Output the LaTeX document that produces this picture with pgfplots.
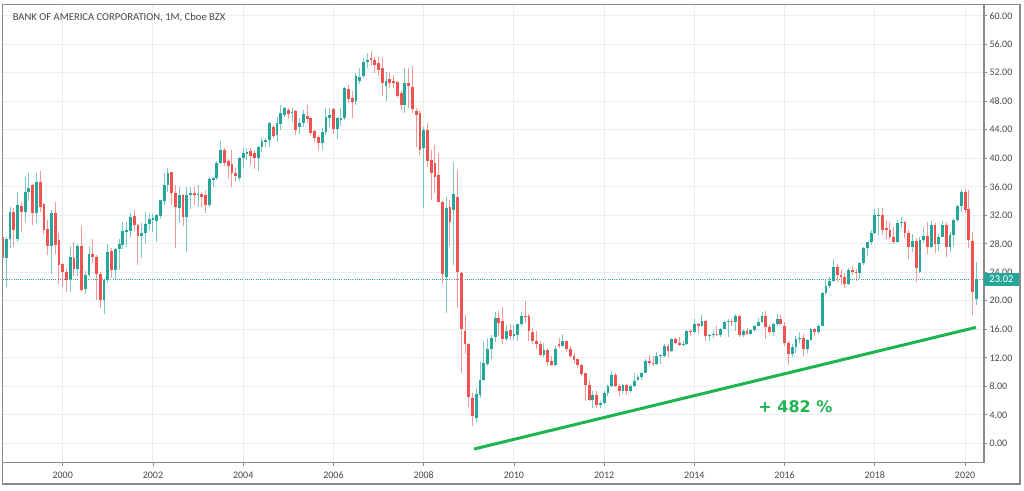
\documentclass[border=0pt]{standalone}
\usepackage{pgfplots}
\pgfplotsset{compat=1.18}
\usepackage{pgfplotstable}
\usepackage{fontspec}
\setmainfont{Carlito}
\newfontfamily\pctfont{DejaVu Sans}

\definecolor{upc}{HTML}{26A69A}
\definecolor{dnc}{HTML}{EF5350}
\definecolor{gridc}{HTML}{E9EEF3}
\definecolor{txt}{HTML}{474747}
\definecolor{framec}{HTML}{8A8A8A}
\definecolor{trend}{RGB}{30,180,80}

% monthly candles, m = months since Jan 2000
\pgfplotstableread{
m O H L C
-16 29.0 30.5 23.8 26.0
-15 26.0 28.9 22.0 28.7
-14 28.6 33.2 27.4 32.5
-13 32.5 33.0 27.5 29.9
-12 28.6 35.3 28.3 33.4
-11 33.3 33.8 29.7 32.5
-10 32.5 37.3 31.1 35.3
-9 35.3 37.9 34.0 35.8
-8 36.2 36.4 30.6 32.3
-7 32.3 37.9 30.9 36.6
-6 36.6 38.2 32.5 33.2
-5 33.6 33.7 29.4 30.0
-4 30.1 31.3 26.4 27.7
-3 27.7 32.8 23.8 32.3
-2 32.3 33.8 26.5 27.8
-1 28.5 29.5 22.4 25.0
0 25.1 25.3 22.0 24.1
1 24.1 24.6 21.3 22.9
2 23.0 27.7 21.3 26.2
3 26.0 28.3 23.5 24.4
4 24.4 28.0 23.5 27.7
5 27.7 30.5 21.3 21.5
6 21.7 24.2 21.0 23.6
7 23.6 27.7 23.3 26.6
8 26.6 28.7 25.3 26.1
9 26.1 26.4 20.1 23.8
10 23.8 24.1 19.0 20.1
11 20.1 23.1 18.1 22.9
12 22.9 27.9 22.5 26.8
13 27.0 27.4 23.2 24.3
14 24.3 27.4 23.0 27.3
15 27.3 28.7 24.3 28.0
16 27.8 31.1 27.2 29.8
17 29.7 31.0 27.5 30.0
18 29.8 32.3 29.0 31.8
19 31.9 32.7 29.8 30.6
20 30.6 30.8 25.0 29.1
21 29.1 30.9 26.0 29.5
22 29.5 32.4 28.0 30.8
23 30.8 32.2 30.0 31.5
24 31.3 32.2 29.7 31.6
25 31.2 32.2 28.3 32.0
26 31.9 34.2 31.5 34.1
27 34.0 37.9 33.5 36.3
28 36.3 38.6 35.3 37.9
29 38.0 38.1 33.4 35.1
30 35.1 36.2 27.4 33.2
31 33.0 36.0 30.9 34.9
32 34.9 35.0 30.5 31.8
33 31.8 36.0 26.9 34.9
34 34.8 36.0 32.9 35.1
35 35.1 35.9 33.4 34.8
36 34.8 36.2 33.2 35.0
37 35.0 35.3 33.2 34.5
38 34.8 35.5 32.3 33.5
39 33.5 37.4 33.2 37.1
40 37.0 37.4 36.0 37.2
41 37.2 39.6 36.9 39.4
42 39.4 42.4 39.2 41.2
43 41.2 41.5 38.9 39.3
44 39.6 39.9 37.2 38.9
45 39.2 41.2 35.9 37.9
46 37.9 38.6 36.7 37.5
47 37.2 40.2 36.8 40.1
48 40.1 41.4 38.7 40.7
49 40.6 41.4 39.7 40.9
50 41.0 41.4 39.0 40.3
51 40.7 41.2 38.5 40.1
52 40.1 41.7 38.2 41.6
53 41.6 42.8 40.9 42.4
54 42.3 42.8 41.6 42.5
55 42.5 45.1 41.6 45.0
56 44.4 44.7 42.9 43.1
57 43.2 45.8 42.3 44.9
58 44.8 47.5 44.0 46.3
59 46.1 47.2 45.8 47.1
60 46.8 47.0 45.5 46.2
61 46.3 47.1 45.1 46.5
62 46.6 46.8 43.2 44.0
63 44.4 45.6 43.4 44.9
64 44.9 46.8 44.4 46.2
65 45.9 47.5 45.0 45.5
66 45.6 45.8 43.2 43.6
67 43.8 43.9 42.3 42.9
68 43.0 43.2 41.2 42.1
69 42.1 44.2 41.2 43.7
70 43.7 47.1 43.2 45.8
71 45.7 47.1 44.4 46.1
72 46.9 47.1 43.4 44.1
73 44.1 45.8 42.7 45.6
74 45.4 47.1 44.5 45.6
75 45.7 50.0 45.4 49.9
76 49.7 50.3 47.8 48.3
77 48.4 49.4 45.7 47.9
78 48.0 51.9 47.5 51.5
79 50.9 52.6 50.4 51.4
80 51.6 54.0 51.2 53.5
81 53.5 54.8 52.6 53.8
82 54.0 55.0 53.0 53.8
83 53.8 54.2 51.9 53.1
84 53.4 54.2 51.6 52.4
85 52.6 54.1 48.8 50.6
86 50.1 52.1 48.1 50.9
87 51.1 52.1 49.9 50.6
88 50.9 51.7 49.8 50.5
89 50.7 50.9 48.4 48.7
90 49.2 49.5 46.7 47.4
91 47.4 52.7 46.4 50.6
92 50.6 52.6 47.0 50.1
93 50.0 52.9 46.3 46.9
94 46.6 47.0 41.6 46.1
95 46.3 46.8 40.4 41.1
96 41.5 44.4 33.0 44.0
97 44.0 44.9 38.8 39.6
98 39.7 41.1 34.1 37.9
99 39.3 41.8 35.1 37.4
100 37.6 40.6 33.8 33.9
101 33.9 34.0 22.4 23.8
102 23.3 34.5 18.3 33.0
103 33.1 34.1 27.7 31.1
104 32.7 39.5 25.0 35.0
105 34.6 38.4 19.0 24.1
106 23.9 24.0 9.9 16.1
107 15.7 18.0 12.5 14.0
108 14.0 14.1 5.1 6.5
109 6.3 7.0 2.5 3.9
110 3.6 7.8 3.0 6.9
111 6.8 11.4 6.4 8.9
112 8.9 14.2 8.7 11.3
113 11.2 14.8 10.8 13.2
114 13.2 15.2 11.8 14.8
115 14.9 18.4 14.2 17.6
116 17.6 18.6 15.0 16.9
117 17.1 19.1 14.0 14.6
118 14.6 16.6 14.4 15.8
119 15.9 16.8 14.5 15.1
120 15.1 16.6 14.5 15.3
121 15.2 16.8 14.3 16.7
122 16.7 18.4 16.4 17.9
123 17.9 19.9 16.9 17.7
124 17.8 18.1 14.4 15.7
125 15.6 16.2 14.0 14.4
126 14.3 15.7 13.2 14.0
127 14.0 14.4 12.2 12.45
128 12.4 14.1 12.1 13.1
129 13.1 13.3 11.0 11.4
130 11.5 12.2 10.8 11.0
131 11.0 13.6 10.9 13.3
132 14.0 14.8 13.4 13.7
133 13.7 15.3 13.5 14.3
134 14.3 14.4 12.8 13.3
135 13.3 13.6 12.0 12.3
136 12.3 12.7 11.1 11.75
137 11.8 11.9 10.5 11.0
138 11.0 11.1 9.4 9.7
139 9.8 9.9 6.0 8.2
140 8.2 8.9 6.0 6.1
141 6.1 7.4 5.0 6.8
142 6.8 7.3 5.0 5.4
143 5.4 6.0 4.9 5.6
144 5.6 7.4 5.5 7.1
145 7.1 8.2 6.7 8.0
146 8.0 10.1 7.9 9.6
147 9.6 9.8 7.9 8.1
148 8.1 8.3 6.7 7.35
149 7.3 8.3 6.9 8.2
150 8.2 8.3 6.8 7.35
151 7.35 8.2 7.1 8.0
152 8.0 9.8 7.9 8.8
153 8.9 9.6 8.8 9.3
154 9.3 10.0 8.9 9.9
155 9.9 11.8 9.8 11.6
156 11.6 12.4 11.0 11.3
157 11.3 12.2 10.9 11.1
158 11.1 12.8 11.0 12.2
159 12.2 12.6 11.2 12.35
160 12.3 14.0 12.1 13.7
161 13.7 13.9 12.1 12.9
162 12.9 14.8 12.8 14.6
163 14.6 14.9 13.9 14.1
164 14.1 14.9 13.6 13.8
165 13.8 14.4 13.6 14.0
166 14.0 15.9 13.8 15.8
167 15.8 16.1 15.0 15.6
168 15.6 17.4 15.4 16.75
169 16.7 16.9 15.4 16.5
170 16.5 18.0 16.3 17.2
171 17.2 17.3 14.4 15.1
172 15.0 15.4 14.4 15.15
173 15.2 15.9 14.8 15.4
174 15.4 16.4 15.1 15.25
175 15.25 16.2 14.9 16.1
176 16.1 17.2 16.0 17.05
177 17.0 17.4 14.9 17.2
178 17.2 17.4 16.4 17.0
179 17.0 18.2 15.8 17.9
180 17.9 18.0 14.9 15.15
181 15.15 16.0 14.9 15.8
182 15.8 16.2 15.2 15.4
183 15.4 16.1 15.2 15.9
184 15.9 16.6 15.6 16.5
185 16.5 17.6 16.4 17.0
186 17.0 18.4 16.9 17.9
187 17.9 18.5 14.6 16.3
188 16.3 16.6 15.3 15.6
189 15.6 16.9 15.0 16.8
190 16.8 18.1 16.4 17.4
191 17.4 18.0 16.6 16.8
192 16.5 17.0 13.7 14.1
193 14.1 14.3 11.0 12.5
194 12.5 13.9 12.1 13.5
195 13.5 15.1 12.7 14.6
196 14.6 15.6 14.1 14.8
197 14.8 15.3 12.2 13.3
198 13.3 14.6 12.7 14.5
199 14.5 16.2 14.4 16.1
200 16.1 16.2 15.0 15.65
201 15.65 16.7 15.4 16.5
202 16.5 21.2 16.4 21.1
203 21.1 23.0 20.8 22.1
204 22.1 23.4 21.8 22.8
205 22.8 25.8 22.7 24.7
206 24.7 25.2 22.6 23.6
207 23.6 24.4 22.2 23.3
208 23.3 23.9 21.8 22.4
209 22.4 24.6 22.2 24.3
210 24.3 24.9 23.6 24.1
211 24.1 24.4 22.8 23.9
212 23.9 25.5 23.0 25.3
213 25.3 27.6 25.0 27.4
214 27.4 28.3 26.3 28.2
215 28.2 29.9 27.8 29.5
216 29.5 32.9 29.3 32.0
217 31.9 33.05 29.2 32.1
218 32.1 33.0 29.2 30.0
219 30.2 31.3 28.7 29.9
220 29.9 31.1 28.7 29.0
221 29.0 30.4 28.0 28.2
222 28.2 31.4 28.1 30.9
223 30.85 31.7 30.2 31.05
224 31.05 31.2 28.8 29.5
225 29.5 30.0 25.8 27.5
226 27.5 29.4 26.8 28.4
227 28.4 28.8 22.7 24.6
228 24.1 29.0 23.9 28.5
229 28.5 30.3 28.1 29.1
230 29.1 31.0 26.6 27.6
231 27.6 31.2 27.4 30.6
232 30.6 30.9 26.7 27.9
233 27.9 29.4 27.0 29.0
234 29.0 31.2 28.9 30.7
235 30.7 31.0 26.2 27.5
236 27.5 29.6 26.9 29.2
237 29.2 31.5 27.7 31.3
238 31.3 33.4 31.0 33.3
239 33.3 35.5 32.5 35.2
240 35.2 35.7 32.3 32.8
241 32.9 35.5 27.4 28.5
242 28.4 29.7 17.95 21.2
243 20.2 25.4 19.4 23.02
}\bars

\begin{document}
\begin{tikzpicture}
\path[use as bounding box] (-2.7pt,-27.5pt) rectangle (1021.3pt,462.5pt);
\begin{axis}[
    at={(0pt,0pt)}, anchor=south west,
    scale only axis, width=981.3pt, height=458pt,
    xmin=-15.96, xmax=245.03, ymin=-2.69, ymax=61.57,
    axis line style={draw=framec, line width=1.2pt},
    tick align=outside, major tick length=3pt,
    tick style={draw=framec, line width=0.8pt},
    xtick pos=lower, ytick pos=right, yticklabel pos=right,
    xtick={0,24,...,240},
    xticklabels={2000,2002,2004,2006,2008,2010,2012,2014,2016,2018,2020},
    ytick={0,4,...,60},
    grid=major, grid style={draw=gridc, line width=1pt},
    tick label style={font=\fontsize{10}{12}\selectfont, text=txt},
    xticklabel style={yshift=-2.5pt},
    yticklabel style={anchor=west, xshift=-1pt,
        /pgf/number format/fixed, /pgf/number format/fixed zerofill,
        /pgf/number format/precision=2},
    /pgf/number format/assume math mode=true,
]
% last price line
\addplot[upc, line width=0.8pt, dash pattern=on 1pt off 1.2pt, forget plot]
    coordinates {(-16,23.02) (245.03,23.02)};

% wicks
\addplot[draw=none, mark=none, forget plot,
    restrict expr to domain={\thisrow{C}-\thisrow{O}}{0:1000},
    error bars/.cd, y dir=plus, y explicit, error mark=none,
    error bar style={draw=upc, line width=1pt, opacity=0.6, solid}]
    table[x=m, y=L, y error plus expr={\thisrow{H}-\thisrow{L}}] {\bars};
\addplot[draw=none, mark=none, forget plot,
    restrict expr to domain={\thisrow{O}-\thisrow{C}}{0.0001:1000},
    error bars/.cd, y dir=plus, y explicit, error mark=none,
    error bar style={draw=dnc, line width=1pt, opacity=0.6, solid}]
    table[x=m, y=L, y error plus expr={\thisrow{H}-\thisrow{L}}] {\bars};

% bodies
\addplot[draw=none, mark=none, forget plot,
    restrict expr to domain={\thisrow{C}-\thisrow{O}}{0:1000},
    error bars/.cd, y dir=plus, y explicit, error mark=none,
    error bar style={draw=upc, line width=2.8pt, solid}]
    table[x=m, y=O, y error plus expr={\thisrow{C}-\thisrow{O}}] {\bars};
\addplot[draw=none, mark=none, forget plot,
    restrict expr to domain={\thisrow{O}-\thisrow{C}}{0.0001:1000},
    error bars/.cd, y dir=plus, y explicit, error mark=none,
    error bar style={draw=dnc, line width=2.8pt, solid}]
    table[x=m, y=C, y error plus expr={\thisrow{O}-\thisrow{C}}] {\bars};

% trend line
\addplot[trend, line width=3pt, forget plot]
    coordinates {(109.4,-0.8) (242.9,16.27)};

\node[anchor=west, text=txt, font=\fontsize{10.6}{12}\selectfont]
    at (rel axis cs:0.0067,0.9716) {BANK OF AMERICA CORPORATION, 1M, Cboe BZX};
\node[anchor=west, text=trend, font=\pctfont\bfseries\fontsize{16}{18}\selectfont]
    at (axis cs:184.1,5.1) {+ 482 \%};

\coordinate (lastp) at (axis cs:245.03,23.02);
\end{axis}
% outer panel frame
\draw[framec, line width=1.2pt] (0pt,458pt) -- (1017.3pt,458pt) -- (1017.3pt,-21.5pt) -- (0pt,-21.5pt) -- cycle;
\node[fill=upc, text=white, anchor=west, inner sep=0pt, minimum width=34.5pt,
    minimum height=13pt, font=\fontsize{10.5}{12}\selectfont] at (lastp) {23.02};
\end{tikzpicture}
\end{document}
